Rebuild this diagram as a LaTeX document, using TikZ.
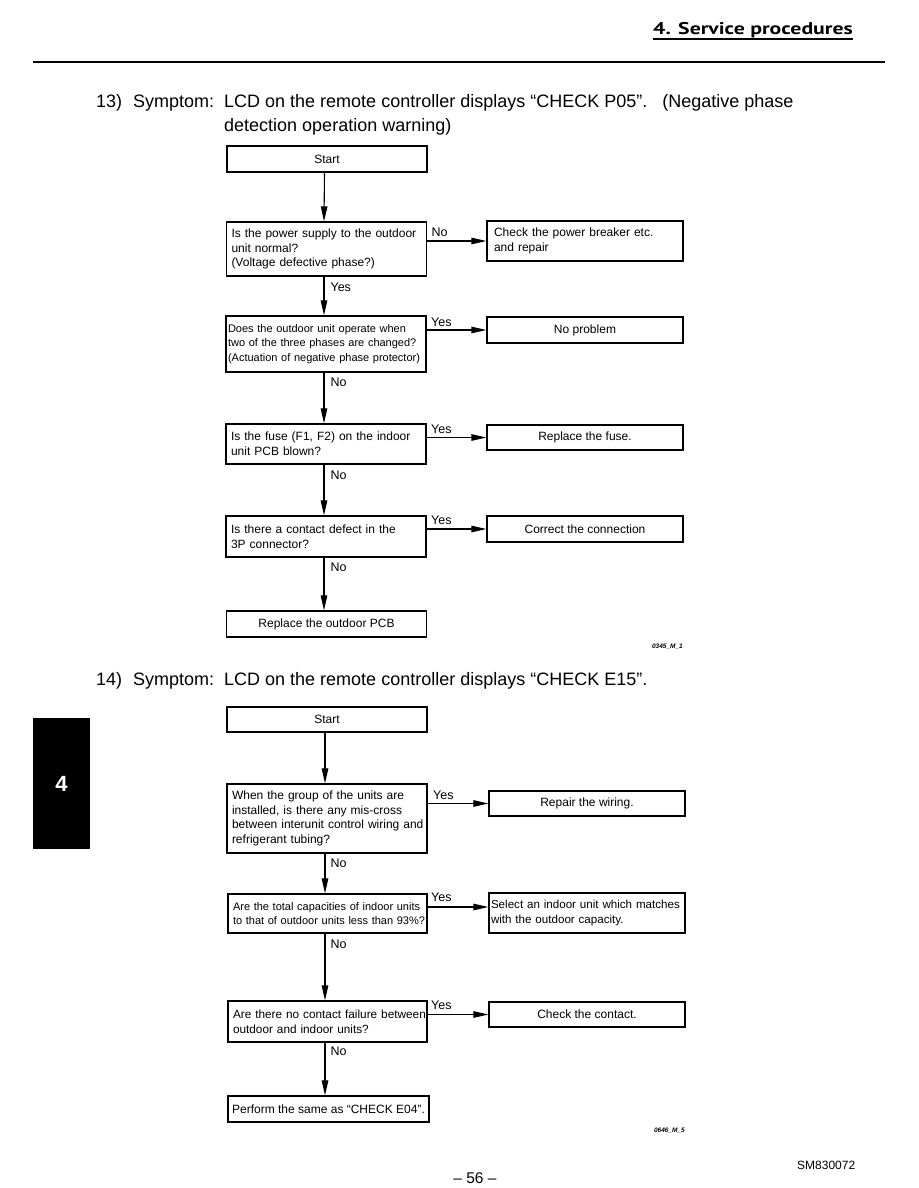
\documentclass[tikz,border=0pt]{standalone}
\usepackage{fontspec}
\setmainfont{Liberation Sans}
\newfontfamily\hdrfont[FakeStretch=1.28]{PT Sans}
\usetikzlibrary{arrows.meta,calc}
\begin{document}
\begin{tikzpicture}[x=1pt,y=-1pt,
  box/.style={draw, line width=1.3pt, minimum width=200pt, inner ysep=0pt, font=\fontsize{12}{14.6}\selectfont},
  qbox/.style={box, text width=190pt, inner xsep=5pt, align=left},
  abox/.style={box, minimum width=196pt, align=center},
  arr/.style={line width=1.1pt, -{Triangle[length=15pt,width=6.5pt]}},
  lab/.style={font=\fontsize{12.5}{14}\selectfont, inner sep=0pt},
  ttl/.style={font=\fontsize{18}{20}\selectfont, inner sep=0pt, anchor=base west},
  code/.style={font=\fontsize{6.5}{8}\selectfont\bfseries\itshape, inner sep=0pt, anchor=east}
]
\useasboundingbox[fill=white] (0,0) rectangle (918,1188);

% header
\node[font=\hdrfont\bfseries\fontsize{17}{20}\selectfont, inner sep=0pt, anchor=base east] (hdr) at (853,34.5) {4. Service procedures};
\draw[line width=1.3pt] ([yshift=-1pt]hdr.south west) -- ([yshift=-1pt]hdr.south east);
\coordinate (rl) at (33,62);
\coordinate (rr) at (885,62);
\draw[line width=2.4pt] (rl) -- (rr);

% title 13
\node[ttl] (t13a) at (96,107.5) {13)};
\node[ttl] (t13b) at (133,107.5) {Symptom:};
\node[ttl] (t13c) at (224,107.5) {LCD on the remote controller displays “CHECK P05”.\hspace{15pt}(Negative phase};
\node[ttl] (t13d) at (224,131.5) {detection operation warning)};

% flow 1
\node[box, minimum height=26pt] (s1) at (327,159) {Start};
\node[qbox, minimum height=54pt] (q1) at (326.5,249) {\mbox{Is the power supply to the outdoor}\\unit normal?\\(Voltage defective phase?)};
\node[box, minimum width=196pt, minimum height=40pt, text width=182pt, inner xsep=7pt, align=left] (a1) at (585,241) {Check the power breaker etc.\\and repair};
\node[qbox, minimum height=56pt, inner xsep=2pt, text width=196pt, font=\fontsize{11}{14.5}\selectfont] (q2) at (326,344) {\mbox{Does the outdoor unit operate when}\\\mbox{two of the three phases are changed?}\\\mbox{(Actuation of negative phase protector)}};
\node[abox, minimum height=26pt] (a2) at (585,330) {No problem};
\node[qbox, minimum height=40pt] (q3) at (326,444) {\mbox{Is the fuse (F1, F2) on the indoor}\\unit PCB blown?};
\node[abox, minimum height=25pt] (a3) at (585,437.5) {Replace the fuse.};
\node[qbox, minimum height=41pt] (q4) at (326,536.5) {Is there a contact defect in the\\3P connector?};
\node[abox, minimum height=26pt] (a4) at (585,529) {Correct the connection};
\node[box, minimum height=26pt] (e1) at (326.5,624) {Replace the outdoor PCB};
\node[code] (c1) at (683,647) {0345\_M\_1};

\draw[arr] ([xshift=-2.5pt]s1.south) -- ([xshift=-2.5pt]q1.north);
\draw[arr] ([xshift=-2.5pt]q1.south) node[lab, anchor=west, xshift=6pt, yshift=-11pt] {Yes} -- ([xshift=-2pt]q2.north);
\draw[arr] ([xshift=-2pt]q2.south) node[lab, anchor=west, xshift=6pt, yshift=-10pt] {No} -- ([xshift=-2pt]q3.north);
\draw[arr] ([xshift=-2pt]q3.south) node[lab, anchor=west, xshift=6pt, yshift=-11pt] {No} -- ([xshift=-2pt]q4.north);
\draw[arr] ([xshift=-2pt]q4.south) node[lab, anchor=west, xshift=6pt, yshift=-10pt] {No} -- ([xshift=-2.5pt]e1.north);

\draw[arr] (a1.west -| q1.east) node[lab, anchor=west, xshift=4pt, yshift=9pt] {No} -- (a1.west);
\draw[arr] (a2.west -| q2.east) node[lab, anchor=west, xshift=4pt, yshift=8pt] {Yes} -- (a2.west);
\draw[arr] (a3.west -| q3.east) node[lab, anchor=west, xshift=4pt, yshift=8pt] {Yes} -- (a3.west);
\draw[arr] (a4.west -| q4.east) node[lab, anchor=west, xshift=4pt, yshift=9pt] {Yes} -- (a4.west);

% title 14
\node[ttl] (t14a) at (96,685.5) {14)};
\node[ttl] (t14b) at (133,685.5) {Symptom:};
\node[ttl] (t14c) at (224,685.5) {LCD on the remote controller displays “CHECK E15”.};

% flow 2
\node[box, minimum height=25pt] (s2) at (327,719.5) {Start};
\node[qbox, minimum height=69pt] (q5) at (327,818.5) {When the group of the units are\\installed, is there any mis-cross\\\mbox{between interunit control wiring and}\\refrigerant tubing?};
\node[abox, minimum height=25pt] (a5) at (587,803.5) {Repair the wiring.};
\node[qbox, minimum width=199pt, text width=189pt, minimum height=39pt, font=\fontsize{11}{14.6}\selectfont] (q6) at (327.5,913.5) {\mbox{Are the total capacities of indoor units}\\\mbox{to that of outdoor units less than 93\%?}};
\node[box, minimum width=196pt, minimum height=40pt, text width=192pt, inner xsep=2pt, align=left, font=\fontsize{11.6}{14.6}\selectfont] (a6) at (587,913) {\mbox{Select an indoor unit which matches}\\with the outdoor capacity.};
\node[qbox, minimum width=199pt, text width=189pt, minimum height=41pt, font=\fontsize{11.8}{14.6}\selectfont] (q7) at (327.5,1021.5) {\mbox{Are there no contact failure between}\\outdoor and indoor units?};
\node[abox, minimum height=25pt] (a7) at (587,1014.5) {Check the contact.};
\node[box, minimum width=201pt, minimum height=26pt] (e2) at (328.5,1109) {Perform the same as “CHECK E04”.};
\node[code] (c2) at (685,1131) {0646\_M\_5};

\draw[arr] ([xshift=-2pt]s2.south) -- ([xshift=-2pt]q5.north);
\draw[arr] ([xshift=-2pt]q5.south) node[lab, anchor=west, xshift=5pt, yshift=-10pt] {No} -- ([xshift=-2.5pt]q6.north);
\draw[arr] ([xshift=-2.5pt]q6.south) node[lab, anchor=west, xshift=5pt, yshift=-11pt] {No} -- ([xshift=-2.5pt]q7.north);
\draw[arr] ([xshift=-2.5pt]q7.south) node[lab, anchor=west, xshift=5pt, yshift=-9pt] {No} -- ([xshift=-3.5pt]e2.north);

\draw[arr] (a5.west -| q5.east) node[lab, anchor=west, xshift=5pt, yshift=8pt] {Yes} -- (a5.west);
\draw[arr] ([yshift=6pt]a6.west -| q6.east) node[lab, anchor=west, xshift=3pt, yshift=10pt] {Yes} -- ([yshift=6pt]a6.west);
\draw[arr] (a7.west -| q7.east) node[lab, anchor=west, xshift=3pt, yshift=9pt] {Yes} -- (a7.west);

% side tab
\node[fill=black, minimum width=57pt, minimum height=131pt, inner sep=0pt, text=white, font=\bfseries\fontsize{22}{24}\selectfont] (tab) at (61.5,783.5) {4};

% footer
\node[font=\fontsize{15.5}{17}\selectfont, inner sep=0pt] (pg) at (475,1178) {– 56 –};
\node[font=\fontsize{12}{14}\selectfont, inner sep=0pt, anchor=west] (sm) at (797,1165) {SM830072};
\end{tikzpicture}
\end{document}
